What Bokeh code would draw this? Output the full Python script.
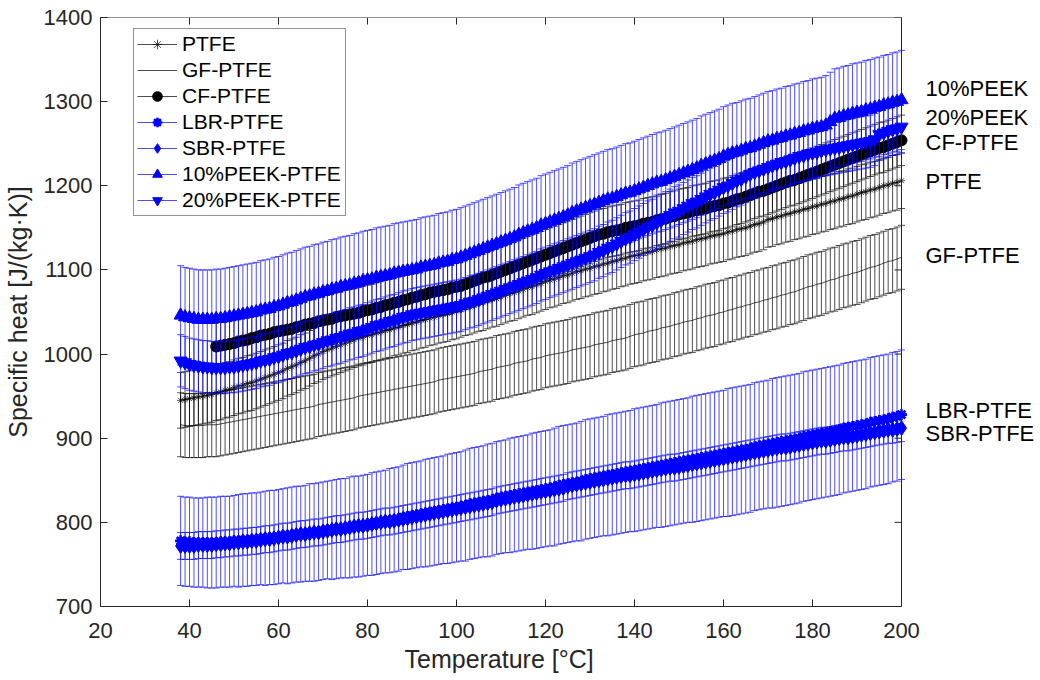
import math
from bokeh.plotting import figure
from bokeh.models import (Range1d, Label, Legend, LegendItem, FixedTicker,
                          Span, Title)
from bokeh.embed import file_html
from bokeh.resources import INLINE

# ---------------- data ----------------
TEMP = list(range(38, 201))          # measurement temperatures [°C]
CF_TEMP = list(range(46, 201))

X_TICKS = [20, 40, 60, 80, 100, 120, 140, 160, 180, 200]
Y_TICKS = [700, 800, 900, 1000, 1100, 1200, 1300, 1400]

PTFE = [945, 946, 947, 948, 949, 950, 951, 952, 954, 955,
        957, 958, 960, 962, 963, 965, 966, 968, 970, 972,
        974, 976, 978, 980, 983, 985, 987, 990, 992, 995,
        998, 1000, 1003, 1005, 1007, 1009, 1011, 1013, 1015, 1017,
        1019, 1020, 1022, 1023, 1025, 1026, 1028, 1029, 1031, 1032,
        1034, 1035, 1037, 1038, 1040, 1041, 1043, 1044, 1046, 1047,
        1048, 1050, 1051, 1053, 1055, 1056, 1058, 1060, 1061, 1063,
        1065, 1066, 1068, 1070, 1072, 1073, 1075, 1077, 1079, 1080,
        1082, 1084, 1086, 1088, 1089, 1091, 1093, 1094, 1096, 1098,
        1099, 1101, 1102, 1104, 1105, 1107, 1108, 1110, 1111, 1113,
        1114, 1116, 1117, 1118, 1120, 1121, 1122, 1124, 1125, 1126,
        1128, 1129, 1130, 1132, 1133, 1134, 1136, 1137, 1138, 1140,
        1141, 1142, 1143, 1145, 1146, 1148, 1149, 1150, 1152, 1154,
        1155, 1157, 1160, 1161, 1163, 1164, 1166, 1167, 1169, 1170,
        1172, 1173, 1175, 1176, 1178, 1179, 1181, 1182, 1184, 1185,
        1187, 1188, 1190, 1192, 1193, 1195, 1196, 1198, 1200, 1201,
        1203, 1204, 1206]

GF_PTFE = [916, 915, 915, 915, 915, 915, 916, 916, 916, 917,
           918, 919, 920, 921, 922, 923, 924, 925, 926, 927,
           928, 929, 930, 931, 932, 933, 934, 935, 936, 937,
           938, 940, 941, 942, 943, 944, 945, 946, 947, 948,
           950, 951, 952, 953, 954, 955, 956, 957, 958, 959,
           960, 961, 962, 963, 964, 965, 966, 967, 969, 970,
           971, 972, 973, 974, 975, 976, 977, 979, 980, 981,
           982, 984, 985, 986, 987, 989, 990, 991, 992, 994,
           995, 996, 998, 999, 1000, 1001, 1002, 1003, 1005, 1006,
           1007, 1008, 1009, 1011, 1012, 1013, 1014, 1016, 1017, 1018,
           1019, 1021, 1023, 1024, 1025, 1027, 1028, 1029, 1031, 1032,
           1033, 1035, 1036, 1038, 1039, 1040, 1042, 1043, 1045, 1046,
           1047, 1049, 1050, 1052, 1053, 1055, 1056, 1058, 1059, 1061,
           1062, 1064, 1065, 1067, 1068, 1070, 1071, 1073, 1074, 1076,
           1078, 1080, 1081, 1083, 1084, 1086, 1088, 1089, 1091, 1093,
           1094, 1096, 1097, 1099, 1101, 1103, 1104, 1106, 1108, 1110,
           1111, 1113, 1115]

CF_PTFE = [1009, 1010, 1011, 1012, 1013, 1015, 1016, 1017, 1019, 1020,
           1022, 1023, 1024, 1026, 1027, 1028, 1029, 1030, 1032, 1033,
           1035, 1036, 1037, 1039, 1040, 1041, 1042, 1044, 1045, 1046,
           1047, 1048, 1049, 1051, 1052, 1053, 1055, 1056, 1058, 1059,
           1061, 1062, 1064, 1065, 1067, 1068, 1070, 1071, 1073, 1074,
           1075, 1076, 1077, 1079, 1080, 1081, 1083, 1085, 1087, 1089,
           1091, 1092, 1094, 1096, 1098, 1100, 1102, 1104, 1106, 1108,
           1110, 1112, 1114, 1116, 1118, 1120, 1122, 1124, 1126, 1128,
           1130, 1132, 1134, 1136, 1138, 1140, 1142, 1143, 1145, 1146,
           1147, 1148, 1150, 1151, 1152, 1153, 1155, 1156, 1157, 1159,
           1160, 1161, 1163, 1164, 1166, 1167, 1168, 1170, 1171, 1172,
           1173, 1175, 1176, 1177, 1179, 1180, 1182, 1184, 1185, 1187,
           1189, 1191, 1193, 1194, 1196, 1198, 1200, 1202, 1204, 1206,
           1207, 1209, 1211, 1213, 1215, 1217, 1219, 1221, 1223, 1225,
           1227, 1229, 1231, 1233, 1235, 1237, 1239, 1241, 1243, 1245,
           1246, 1248, 1250, 1252, 1254]

LBR_PTFE = [778, 777, 777, 776, 776, 776, 776, 776, 776, 777,
            777, 777, 778, 778, 779, 779, 780, 780, 781, 781,
            782, 782, 783, 784, 784, 785, 786, 786, 787, 788,
            788, 789, 790, 791, 791, 792, 793, 793, 794, 795,
            795, 796, 797, 798, 799, 800, 801, 802, 803, 804,
            806, 807, 808, 809, 810, 811, 812, 813, 814, 815,
            816, 817, 818, 819, 820, 822, 823, 824, 825, 826,
            827, 829, 830, 831, 832, 833, 834, 835, 836, 837,
            838, 839, 840, 841, 842, 844, 845, 846, 847, 848,
            849, 851, 852, 853, 854, 855, 856, 857, 858, 859,
            860, 861, 862, 863, 864, 865, 866, 867, 868, 869,
            870, 871, 872, 873, 874, 875, 876, 877, 878, 879,
            880, 881, 882, 883, 884, 885, 886, 887, 888, 890,
            891, 892, 893, 894, 895, 896, 897, 898, 899, 900,
            902, 903, 904, 905, 906, 907, 908, 909, 910, 912,
            913, 914, 915, 916, 917, 919, 920, 921, 922, 923,
            925, 926, 928]

SBR_PTFE = [772, 772, 772, 772, 773, 773, 773, 773, 774, 774,
            775, 775, 776, 776, 777, 777, 778, 778, 779, 780,
            780, 781, 782, 783, 783, 784, 785, 786, 786, 787,
            788, 788, 789, 790, 791, 792, 792, 793, 794, 795,
            796, 796, 797, 798, 799, 800, 801, 801, 802, 803,
            804, 805, 806, 807, 808, 809, 810, 811, 812, 813,
            814, 815, 816, 817, 818, 819, 820, 821, 822, 823,
            824, 826, 827, 828, 829, 830, 831, 832, 833, 834,
            835, 836, 837, 838, 839, 840, 841, 843, 844, 845,
            846, 847, 848, 849, 850, 851, 852, 853, 854, 855,
            856, 856, 857, 858, 859, 860, 861, 862, 863, 864,
            865, 865, 866, 867, 868, 869, 870, 871, 872, 873,
            874, 875, 876, 877, 878, 879, 880, 881, 882, 883,
            884, 885, 886, 887, 888, 889, 889, 890, 891, 892,
            893, 894, 895, 896, 897, 897, 898, 899, 900, 901,
            901, 902, 903, 904, 905, 906, 907, 908, 909, 910,
            910, 911, 912]

PEEK10_PTFE = [1046, 1044, 1043, 1042, 1041, 1041, 1041, 1041, 1042, 1042,
               1043, 1044, 1045, 1046, 1047, 1048, 1049, 1050, 1052, 1053,
               1054, 1056, 1057, 1059, 1061, 1062, 1064, 1066, 1068, 1069,
               1071, 1072, 1074, 1075, 1077, 1078, 1080, 1081, 1082, 1084,
               1085, 1087, 1088, 1089, 1091, 1092, 1093, 1094, 1096, 1097,
               1098, 1099, 1100, 1101, 1103, 1104, 1105, 1106, 1108, 1109,
               1110, 1112, 1113, 1115, 1117, 1119, 1121, 1123, 1125, 1127,
               1129, 1131, 1133, 1135, 1137, 1139, 1142, 1144, 1146, 1148,
               1150, 1153, 1155, 1157, 1159, 1161, 1163, 1165, 1168, 1170,
               1172, 1174, 1176, 1178, 1180, 1182, 1184, 1185, 1187, 1189,
               1191, 1192, 1194, 1196, 1198, 1200, 1202, 1204, 1205, 1207,
               1209, 1211, 1213, 1215, 1217, 1219, 1221, 1224, 1226, 1228,
               1230, 1232, 1235, 1237, 1239, 1240, 1242, 1244, 1245, 1247,
               1249, 1251, 1253, 1254, 1256, 1257, 1259, 1260, 1262, 1263,
               1265, 1266, 1268, 1269, 1270, 1272, 1276, 1280, 1281, 1283,
               1284, 1286, 1287, 1288, 1290, 1291, 1293, 1294, 1296, 1297,
               1299, 1300, 1302]

PEEK20_PTFE = [992, 990, 988, 987, 986, 985, 985, 984, 984, 984,
               984, 985, 985, 986, 987, 988, 989, 990, 992, 993,
               994, 996, 997, 999, 1001, 1002, 1004, 1006, 1008, 1009,
               1011, 1012, 1014, 1016, 1017, 1019, 1020, 1022, 1024, 1025,
               1027, 1028, 1030, 1032, 1034, 1035, 1037, 1039, 1040, 1042,
               1044, 1045, 1047, 1048, 1049, 1050, 1051, 1052, 1053, 1054,
               1055, 1056, 1057, 1058, 1060, 1062, 1063, 1065, 1067, 1069,
               1071, 1073, 1075, 1077, 1079, 1081, 1083, 1085, 1087, 1089,
               1091, 1094, 1096, 1098, 1100, 1102, 1104, 1106, 1108, 1110,
               1112, 1114, 1116, 1118, 1121, 1123, 1126, 1128, 1131, 1134,
               1137, 1139, 1142, 1145, 1148, 1151, 1153, 1156, 1159, 1162,
               1165, 1168, 1170, 1173, 1176, 1179, 1181, 1184, 1187, 1190,
               1192, 1195, 1198, 1200, 1203, 1206, 1208, 1211, 1214, 1216,
               1218, 1220, 1222, 1224, 1226, 1228, 1229, 1231, 1233, 1235,
               1236, 1238, 1239, 1240, 1242, 1243, 1244, 1245, 1246, 1247,
               1248, 1249, 1250, 1251, 1252, 1253, 1255, 1261, 1263, 1265,
               1267, 1268, 1270]

# error bar half-lengths (J/(kg K))
ERR_PTFE = 33
ERR_GF = 38
ERR_CF = 30
ERR_SBR = 16
ERR_PEEK10 = 59
ERR_PEEK20 = 31
ERR_LBR = [53, 53, 53, 53, 53, 53, 54, 54, 54, 54,
           54, 54, 54, 55, 55, 55, 55, 55, 55, 56,
           56, 56, 56, 56, 57, 57, 57, 57, 57, 58,
           58, 58, 58, 58, 59, 59, 59, 59, 60, 60,
           60, 60, 60, 61, 61, 61, 61, 62, 62, 62,
           62, 63, 63, 63, 63, 64, 64, 64, 64, 64,
           65, 65, 65, 65, 66, 66, 66, 66, 66, 67,
           67, 67, 67, 67, 68, 68, 68, 68, 68, 69,
           69, 69, 69, 69, 70, 70, 70, 70, 70, 70,
           71, 71, 71, 71, 71, 71, 72, 72, 72, 72,
           72, 72, 73, 73, 73, 73, 73, 73, 74, 74,
           74, 74, 74, 74, 74, 75, 75, 75, 75, 75,
           75, 75, 75, 76, 76, 76, 76, 76, 76, 76,
           76, 76, 76, 77, 77, 77, 77, 77, 77, 77,
           77, 77, 77, 77, 77, 77, 77, 77, 77, 77,
           77, 77, 77, 77, 77, 77, 77, 77, 77, 77,
           77, 77, 77]

LEGEND_NAMES = ["PTFE", "GF-PTFE", "CF-PTFE", "LBR-PTFE", "SBR-PTFE",
                "10%PEEK-PTFE", "20%PEEK-PTFE"]
END_LABELS = ["10%PEEK", "20%PEEK", "CF-PTFE", "PTFE", "GF-PTFE",
              "LBR-PTFE", "SBR-PTFE"]
END_LABEL_Y = [1316, 1281, 1251, 1205, 1117, 933, 906]
X_LABEL = "Temperature [°C]"
Y_LABEL = "Specific heat [J/(kg·K)]"

# ---------------- styling / layout ----------------
BLUE = "#0000ff"
BLACK = "#000000"
AX = "#262626"
FONT = "Liberation Sans"

X0, X1 = X_TICKS[0], X_TICKS[-1]
Y0, Y1 = Y_TICKS[0], Y_TICKS[-1]
AXES_W = 801                 # pixel width of the 20..200 axis box
FRAME_W = 936                # frame extended to the right for the end labels
X_END = X0 + (X1 - X0) * FRAME_W / AXES_W
LABEL_X = X0 + (X1 - X0) * 825 / AXES_W

series = [
    # x, y, err, colour, marker, size, filled, marker line width
    (TEMP, PTFE, ERR_PTFE, BLACK, "asterisk", 7, False, 0.7),
    (TEMP, GF_PTFE, ERR_GF, BLACK, None, 0, False, 0),
    (CF_TEMP, CF_PTFE, ERR_CF, BLACK, "circle", 11, True, 1),
    (TEMP, LBR_PTFE, ERR_LBR, BLUE, "asterisk", 11, True, 2.6),
    (TEMP, SBR_PTFE, ERR_SBR, BLUE, "diamond", 15, True, 1),
    (TEMP, PEEK10_PTFE, ERR_PEEK10, BLUE, "triangle", 13, True, 1),
    (TEMP, PEEK20_PTFE, ERR_PEEK20, BLUE, "inverted_triangle", 13, True, 1),
]

p = figure(frame_width=FRAME_W, frame_height=589,
           x_range=Range1d(X0, X_END), y_range=Range1d(Y0, Y1),
           output_backend="svg", toolbar_location=None,
           min_border_left=100, min_border_right=0,
           min_border_top=17, min_border_bottom=72,
           background_fill_color="white", border_fill_color="white")
p.grid.visible = False
p.outline_line_color = None

items = []
for (xs, ys, err, col, mk, sz, filled, mlw), name in zip(series, LEGEND_NAMES):
    errs = err if isinstance(err, list) else [err] * len(ys)
    lo = [v - e for v, e in zip(ys, errs)]
    hi = [v + e for v, e in zip(ys, errs)]
    p.segment(x0=xs, y0=lo, x1=xs, y1=hi, line_color=col, line_width=0.7)
    p.scatter(x=xs + xs, y=lo + hi, marker="dash", size=7,
              line_color=col, line_width=0.7)
    ln = p.line(xs, ys, line_color=col, line_width=0.7)
    bar = p.scatter(x=[], y=[], marker="dash", angle=math.pi / 2, size=20,
                    line_color=col, line_width=0.8)
    rends = [ln, bar]
    if mk is not None:
        sc = p.scatter(x=xs, y=ys, marker=mk, size=sz, line_color=col,
                       line_width=mlw,
                       fill_color=col if filled else None)
        rends.append(sc)
    items.append(LegendItem(label=name, renderers=rends))

legend = Legend(items=items, location=(33, 589 - 13 - 186),
                label_text_font=FONT, label_text_font_size="21px",
                label_text_color=BLACK,
                glyph_width=40, glyph_height=24, label_height=24,
                label_width=160, label_standoff=5,
                spacing=2, padding=3, margin=0,
                border_line_color=AX, border_line_width=1,
                background_fill_color="white", background_fill_alpha=1)
p.add_layout(legend, "center")

# axes
for ax in (p.xaxis[0], p.yaxis[0]):
    ax.axis_line_color = AX
    ax.major_tick_line_color = AX
    ax.minor_tick_line_color = None
    ax.major_tick_in = 7
    ax.major_tick_out = 0
    ax.major_label_text_font = FONT
    ax.major_label_text_font_size = "22px"
    ax.major_label_text_color = AX
    ax.axis_label_text_font = FONT
    ax.axis_label_text_font_size = "25px"
    ax.axis_label_text_font_style = "normal"
    ax.axis_label_text_color = AX

p.xaxis.ticker = FixedTicker(ticks=X_TICKS)
p.yaxis.ticker = FixedTicker(ticks=Y_TICKS)
p.xaxis.bounds = (X0, X1)
p.yaxis.axis_label = Y_LABEL
p.xaxis.major_label_standoff = 16
p.yaxis.major_label_standoff = 8
p.yaxis.axis_label_standoff = 9

# x-axis title centred under the 20..200 box (not the extended frame)
p.add_layout(Title(text=X_LABEL, align="left", offset=304, standoff=4,
                   text_font=FONT, text_font_size="25px",
                   text_font_style="normal", text_color=AX), "below")

# box: top and right edges with mirrored inward ticks
p.segment(x0=[X0], y0=[Y1], x1=[X1], y1=[Y1], line_color=AX, line_width=1)
p.add_layout(Span(location=X1, dimension="height", line_color=AX, line_width=1))
p.ray(x=X_TICKS, y=[Y1] * len(X_TICKS), length=7, length_units="screen",
      angle=-math.pi / 2, line_color=AX, line_width=1)
p.ray(x=[X1] * len(Y_TICKS), y=Y_TICKS, length=7, length_units="screen",
      angle=math.pi, line_color=AX, line_width=1)

for txt, yv in zip(END_LABELS, END_LABEL_Y):
    p.add_layout(Label(x=LABEL_X, y=yv, text=txt, text_font=FONT,
                       text_font_size="22px", text_color=BLACK,
                       text_baseline="middle", text_align="left"))

open("out.html", "w").write(file_html(p, INLINE))
